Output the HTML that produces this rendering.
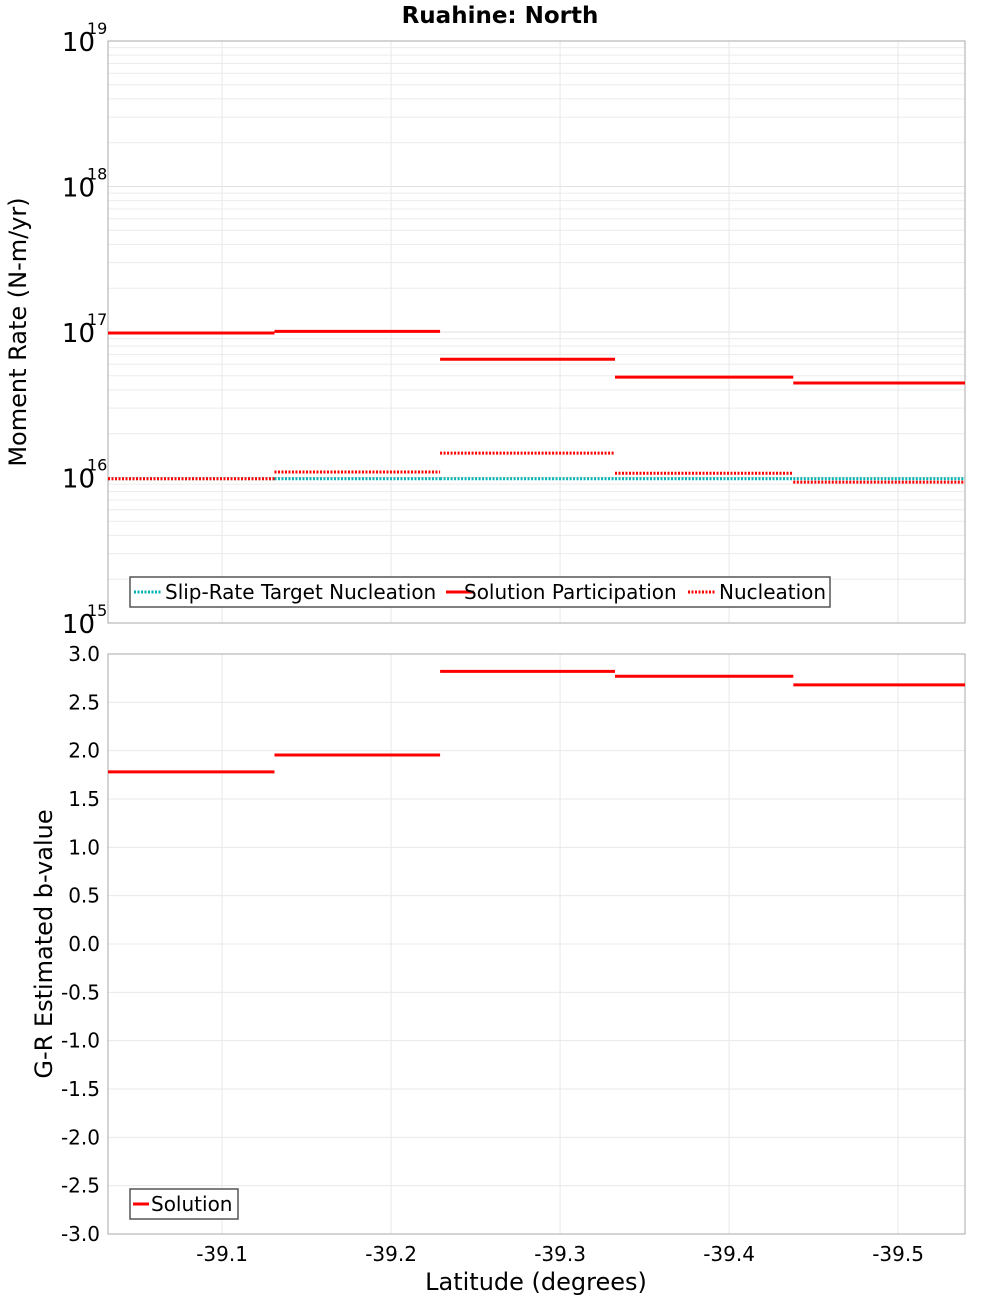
<!DOCTYPE html>
<html><head><meta charset="utf-8"><style>
body{margin:0;background:#fff;}
svg{display:block;font-family:"DejaVu Sans","Liberation Sans",sans-serif;}
</style></head><body>
<svg id="c" width="1000" height="1300" viewBox="0 0 1000 1300"></svg>
<script>
const edges=[-39.0325,-39.131,-39.229,-39.3325,-39.438,-39.5396];
const participation=[9.85e16,1.01e17,6.5e16,4.9e16,4.46e16];
const nucleation=[9.8e15,1.09e16,1.47e16,1.07e16,9.3e15];
const target=[9.8e15,9.8e15,9.8e15,9.8e15,9.8e15];
const bvalues=[1.78,1.955,2.82,2.77,2.68];
const xTicks=[-39.1,-39.2,-39.3,-39.4,-39.5];
const bTicks=[3,2.5,2,1.5,1,0.5,0,-0.5,-1,-1.5,-2,-2.5,-3];
const decades=[15,16,17,18,19];

const S="http://www.w3.org/2000/svg",svg=document.getElementById('c');
const L=108,R=965,T1=41,B1=623,T2=654,B2=1234;
const X=v=>L+(v-edges[0])/(edges[5]-edges[0])*(R-L);
const Y1=v=>B1-(Math.log10(v)-15)/4*(B1-T1);
const Y2=v=>B2-(v+3)/6*(B2-T2);
function el(t,a,p){const e=document.createElementNS(S,t);for(const k in a)e.setAttribute(k,a[k]);(p||svg).appendChild(e);return e;}
function txt(s,a,p){const e=el('text',a,p);e.textContent=s;return e;}

const title=txt('Ruahine: North',{x:500,y:23,'text-anchor':'middle','font-size':23,'font-weight':'bold'});


const g1=el('g',{});
for(let d=15;d<19;d++)for(let m=1;m<10;m++){const y=Y1(m*Math.pow(10,d));el('line',{x1:L,x2:R,y1:y,y2:y,stroke:m==1?'#e2e2e2':'#ececec','stroke-width':1},g1);}
xTicks.forEach(t=>{const x=X(t);el('line',{x1:x,x2:x,y1:T1,y2:B1,stroke:'#e8e8e8'},g1);el('line',{x1:x,x2:x,y1:T2,y2:B2,stroke:'#e8e8e8'},g1);});
bTicks.forEach(t=>{const y=Y2(t);el('line',{x1:L,x2:R,y1:y,y2:y,stroke:'#e8e8e8'},g1);});
el('rect',{x:L,y:T1,width:R-L,height:B1-T1,fill:'none',stroke:'#aaa'});
el('rect',{x:L,y:T2,width:R-L,height:B2-T2,fill:'none',stroke:'#aaa'});

decades.forEach(d=>{const y=Y1(Math.pow(10,d));
 const t=txt('10',{x:95,y:y+10,'text-anchor':'end','font-size':26});
 const s=txt(String(d),{x:87,y:y-7,'font-size':16});});
bTicks.forEach(v=>{const t=txt(v.toFixed(1),{x:100,y:Y2(v)+7,'text-anchor':'end','font-size':20});});
xTicks.forEach(v=>{const t=txt(v.toFixed(1),{x:X(v),y:1261,'text-anchor':'middle','font-size':20});});

let a=txt('Moment Rate (N-m/yr)',{transform:'translate(26,332) rotate(-90)','text-anchor':'middle','font-size':24});
a=txt('G-R Estimated b-value',{transform:'translate(52,944) rotate(-90)','text-anchor':'middle','font-size':24});
a=txt('Latitude (degrees)',{x:536,y:1290,'text-anchor':'middle','font-size':24});

function series(vals,Y,color,dash,name){const g=el('g',{});
 vals.forEach((v,i)=>{const l=el('line',{x1:X(edges[i]),x2:X(edges[i+1]),y1:Y(v),y2:Y(v),stroke:color,'stroke-width':3},g);if(dash)l.setAttribute('stroke-dasharray',dash);
  });}
series(target,Y1,'#00b3b3','2 1.5','target-nucleation');
series(nucleation,Y1,'#ff0000','2 1.5','nucleation');
series(participation,Y1,'#ff0000',null,'solution-participation');
series(bvalues,Y2,'#ff0000',null,'b-value-solution');

let lg=el('g',{});
el('rect',{x:130,y:577,width:700,height:30,fill:'#fff',stroke:'#555','stroke-width':1.5},lg);
[[134,'#00b3b3','2 1.5','Slip-Rate Target Nucleation',165],[446,'#ff0000',null,'Solution Participation',464],[688,'#ff0000','2 1.5','Nucleation',719]].forEach(e=>{
 const l=el('line',{x1:e[0],x2:e[0]+28,y1:592,y2:592,stroke:e[1],'stroke-width':3},lg);if(e[2])l.setAttribute('stroke-dasharray',e[2]);
 const t=txt(e[3],{x:e[4],y:599,'font-size':20},lg);});
lg=el('g',{});
el('rect',{x:130,y:1189,width:108,height:30,fill:'#fff',stroke:'#555','stroke-width':1.5},lg);
el('line',{x1:133,x2:149,y1:1204,y2:1204,stroke:'#ff0000','stroke-width':3},lg);
a=txt('Solution',{x:151,y:1211,'font-size':20},lg);
</script>
</body></html>
